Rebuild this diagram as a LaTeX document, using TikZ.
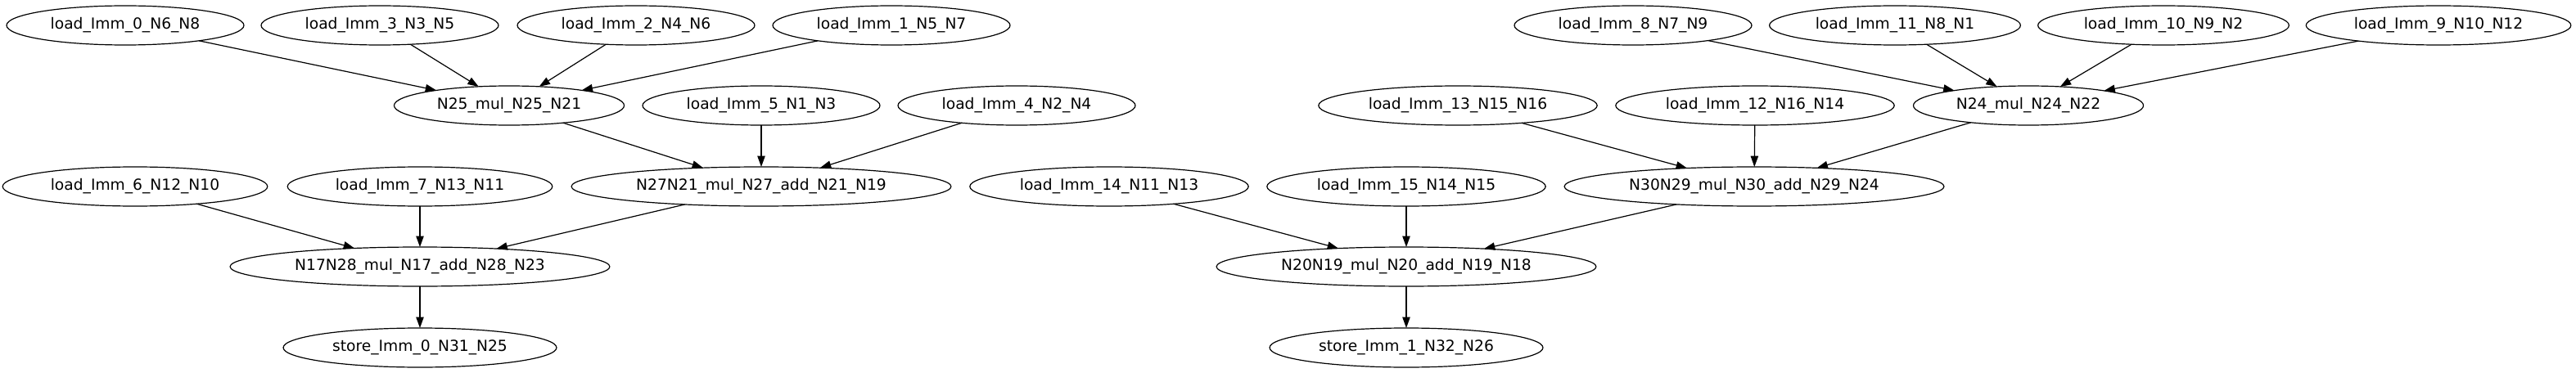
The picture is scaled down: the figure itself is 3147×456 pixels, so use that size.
\documentclass[tikz,border=0pt]{standalone}
\usepackage{fontspec}
\setmainfont{DejaVu Sans}
\usetikzlibrary{shapes.geometric,arrows.meta}
\begin{document}
\begin{tikzpicture}[x=0.75pt,y=-0.75pt,
  nd/.style={draw=black,line width=0.9pt,ellipse,inner xsep=8.4pt,inner ysep=2pt,
    minimum height=36pt,outer sep=0pt,font=\fontsize{14pt}{16pt}\selectfont},
  ed/.style={draw=black,line width=0.9pt,-{Triangle[length=10pt,width=7pt]}}]
\useasboundingbox (0,0) rectangle (3147,456);
% row 1
\node[nd] (L0)  at (153,31)  {load\_Imm\_0\_N6\_N8};
\node[nd] (L3)  at (464,31)  {load\_Imm\_3\_N3\_N5};
\node[nd] (L2)  at (777,31)  {load\_Imm\_2\_N4\_N6};
\node[nd] (L1)  at (1089,31) {load\_Imm\_1\_N5\_N7};
\node[nd] (L8)  at (1995,31) {load\_Imm\_8\_N7\_N9};
\node[nd] (L11) at (2315,31) {load\_Imm\_11\_N8\_N1};
\node[nd] (L10) at (2643,31) {load\_Imm\_10\_N9\_N2};
\node[nd] (L9)  at (2979,31) {load\_Imm\_9\_N10\_N12};
% row 2
\node[nd] (M25) at (622,129)  {N25\_mul\_N25\_N21};
\node[nd] (L5)  at (930,129)  {load\_Imm\_5\_N1\_N3};
\node[nd] (L4)  at (1242,129) {load\_Imm\_4\_N2\_N4};
\node[nd] (L13) at (1781,129) {load\_Imm\_13\_N15\_N16};
\node[nd] (L12) at (2144,129) {load\_Imm\_12\_N16\_N14};
\node[nd] (M24) at (2478,129) {N24\_mul\_N24\_N22};
% row 3
\node[nd] (L6)  at (165,228)  {load\_Imm\_6\_N12\_N10};
\node[nd] (L7)  at (513,228)  {load\_Imm\_7\_N13\_N11};
\node[nd] (A27) at (930,228)  {N27N21\_mul\_N27\_add\_N21\_N19};
\node[nd] (L14) at (1355,228) {load\_Imm\_14\_N11\_N13};
\node[nd] (L15) at (1718,228) {load\_Imm\_15\_N14\_N15};
\node[nd] (A30) at (2143,228) {N30N29\_mul\_N30\_add\_N29\_N24};
% row 4
\node[nd] (A17) at (513,326)  {N17N28\_mul\_N17\_add\_N28\_N23};
\node[nd] (A20) at (1718,326) {N20N19\_mul\_N20\_add\_N19\_N18};
% row 5
\node[nd] (S0) at (513,425)  {store\_Imm\_0\_N31\_N25};
\node[nd] (S1) at (1718,425) {store\_Imm\_1\_N32\_N26};
% edges
\foreach \s in {L0,L3,L2,L1} \draw[ed] (\s) -- (M25);
\foreach \s in {M25,L5,L4} \draw[ed] (\s) -- (A27);
\foreach \s in {L6,L7,A27} \draw[ed] (\s) -- (A17);
\draw[ed] (A17) -- (S0);
\foreach \s in {L8,L11,L10,L9} \draw[ed] (\s) -- (M24);
\foreach \s in {L13,L12,M24} \draw[ed] (\s) -- (A30);
\foreach \s in {L14,L15,A30} \draw[ed] (\s) -- (A20);
\draw[ed] (A20) -- (S1);
\end{tikzpicture}
\end{document}
